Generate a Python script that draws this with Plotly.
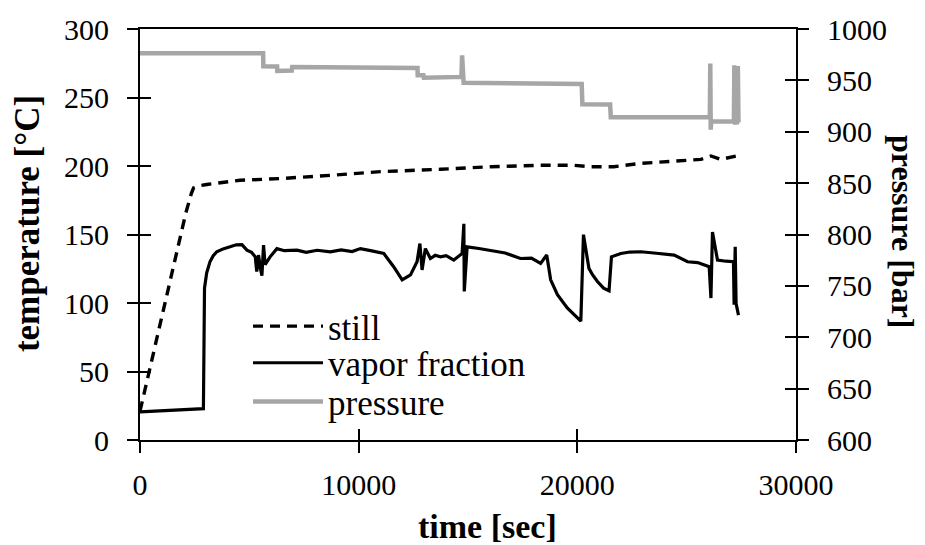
import plotly.graph_objects as go

# ---------------- data ----------------
still_t = [0, 1000, 2100, 2350, 2450, 2700, 3055, 4580, 6413, 8700, 11000, 13740,
           16030, 18320, 19840, 20610, 21670, 22900, 24420, 25650, 26110, 26570, 27260, 27400]
still_v = [21, 90, 166, 180, 184, 185.5, 186.5, 189.6, 190.8, 193.2, 195.9, 197.6,
           199.5, 200.5, 200.5, 199.5, 199.5, 201.9, 203.6, 204.8, 207.3, 204.8, 207.3, 208]

vapor_t = [0, 1500, 2900, 2950, 3050, 3200, 3350, 3510, 3800, 4120, 4400, 4660, 4890, 5100,
           5270, 5340, 5420, 5500, 5575, 5650, 5720, 5950, 6260, 6600, 7180, 7600, 8100, 8700,
           9200, 9700, 10080, 10600, 11150, 11600, 11990, 12370, 12670, 12800, 12900,
           13050, 13280, 13500, 13740, 14000, 14350, 14730, 14810, 14830, 14960, 15500, 16030,
           16700, 17400, 17900, 18320, 18600, 18780, 19090, 19540, 19800, 20160, 20280, 20530,
           20700, 20920, 21200, 21450, 21560, 21990, 22400, 22900, 23500, 24430, 25040, 25500,
           26030, 26110, 26180, 26410, 26800, 27140, 27170, 27220, 27260, 27370]
vapor_v = [20.5, 21.5, 22.9, 110.8, 122, 130.1, 134.5, 137.4, 139.5, 141.0, 142.5, 142.6, 138.6, 137,
           133.7, 122.9, 135, 126, 120.0, 142.2, 128, 133.7, 139.7, 138.2, 138.6, 137.0, 138.5, 137.4,
           138.8, 137.6, 139.7, 138.0, 136.1, 126.5, 116.9, 120.5, 130.1, 143.4, 124.1,
           139.7, 132.5, 134.8, 133.7, 134.6, 131.3, 136.1, 157.8, 108.4, 141.0, 139.8, 138.6,
           136.5, 132.5, 132.8, 128.9, 135.0, 116.9, 106.1, 96.4, 92.5, 86.8, 149.9, 125.3,
           120.5, 115.7, 110.8, 108.9, 133.7, 136.1, 137.2, 137.4, 136.5, 135.0, 130.1, 129.5,
           126.5, 103.6, 151.8, 131.3, 130.5, 130.1, 98.8, 141.0, 99.5, 91.1]

press_t = [0, 5630, 5640, 6270, 6280, 6940, 6960, 12690, 12700, 12960, 12980, 14700, 14730,
           14760, 14800, 20200, 20230, 21500, 21530, 26060, 26080, 26100, 26120, 27160, 27180,
           27220, 27260, 27300, 27340, 27370]
press_v = [976.5, 976.3, 963.7, 963.5, 959.2, 959.5, 963.0, 962.0, 955.0, 955.0, 952.5, 953.4, 974.3,
           953.0, 947.7, 946.5, 926.7, 926.5, 914.2, 914.0, 966.3, 902.0, 910.1, 910.0, 964.6,
           906.8, 964.0, 907.0, 964.0, 909.0]

legend_names = ["still", "vapor fraction", "pressure"]
x_ticks = [0, 10000, 20000, 30000]
t_ticks = [0, 50, 100, 150, 200, 250, 300]
p_ticks = [600, 650, 700, 750, 800, 850, 900, 950, 1000]

# ---------------- styling ----------------
FONT = "Liberation Serif, Times New Roman, serif"
GRAY = "#A6A6A6"
TICKFONT = dict(family=FONT, size=30, color="black")
TITLEFONT = dict(family=FONT, size=34, color="black")

fig = go.Figure()
fig.add_trace(go.Scatter(x=press_t, y=press_v, mode="lines", name=legend_names[2],
                         line=dict(color=GRAY, width=4.5), yaxis="y2", showlegend=False))
fig.add_trace(go.Scatter(x=still_t, y=still_v, mode="lines", name=legend_names[0],
                         line=dict(color="black", width=3.4, dash="10px,7px"), showlegend=False))
fig.add_trace(go.Scatter(x=vapor_t, y=vapor_v, mode="lines", name=legend_names[1],
                         line=dict(color="black", width=3.2), showlegend=False))

axis_common = dict(showline=True, linecolor="black", linewidth=2, showgrid=False,
                   zeroline=False, tickcolor="black", tickwidth=2, ticklen=11)

fig.update_layout(
    width=925, height=545,
    margin=dict(l=140, r=129, t=25, b=105),
    plot_bgcolor="white", paper_bgcolor="white",
    font=dict(family=FONT, size=30, color="black"),
    xaxis=dict(range=[0, 30000], tickvals=x_ticks, ticktext=[str(v) for v in x_ticks],
               ticks="outside", mirror=True, tickfont=TICKFONT, ticklabelstandoff=6,
               **axis_common),
    xaxis2=dict(range=[0, 30000], overlaying="x", tickvals=x_ticks, ticks="inside",
                showticklabels=False, anchor="y", side="bottom", **axis_common),
    yaxis=dict(range=[0, 300], tickvals=t_ticks, ticktext=[str(v) for v in t_ticks],
               ticks="outside", tickfont=TICKFONT, ticklabelstandoff=12, **axis_common),
    yaxis2=dict(range=[600, 1000], tickvals=p_ticks, ticktext=[str(v) for v in p_ticks],
                overlaying="y", side="right", anchor="x", ticks="outside",
                tickfont=TICKFONT, ticklabelstandoff=12, **axis_common),
    yaxis3=dict(range=[0, 300], tickvals=t_ticks, overlaying="y", side="left", anchor="x",
                ticks="inside", showticklabels=False, **axis_common),
    yaxis4=dict(range=[600, 1000], tickvals=p_ticks, overlaying="y", side="right", anchor="x",
                ticks="inside", showticklabels=False, **axis_common),
)
# invisible traces so that the overlay axes (inner tick halves) are drawn
fig.add_trace(go.Scatter(x=[None], y=[None], xaxis="x2", yaxis="y3", showlegend=False, hoverinfo="skip"))
fig.add_trace(go.Scatter(x=[None], y=[None], xaxis="x", yaxis="y4", showlegend=False, hoverinfo="skip"))

PW, PH = 656.0, 415.0
def px(xp):
    return (xp - 140) / PW
def py(yp):
    return (440 - yp) / PH

# axis titles
fig.add_annotation(text="<b>time [sec]</b>", x=px(487), y=py(527), xref="paper", yref="paper",
                   xanchor="center", yanchor="middle", showarrow=False, font=TITLEFONT)
fig.add_annotation(text="<b>temperature [°C]</b>", x=px(27), y=py(222), xref="paper", yref="paper",
                   xanchor="center", yanchor="middle", textangle=-90, showarrow=False,
                   font=dict(family=FONT, size=35, color="black"))
fig.add_annotation(text="<b>pressure [bar]</b>", x=px(903), y=py(229), xref="paper", yref="paper",
                   xanchor="center", yanchor="middle", textangle=90, showarrow=False,
                   font=dict(family=FONT, size=32, color="black"))

# custom legend
leg_rows = [(325, dict(color="black", width=3.4, dash="10px,7px")),
            (362, dict(color="black", width=3.2)),
            (401, dict(color=GRAY, width=4.5))]
for name, (yy, ln) in zip(legend_names, leg_rows):
    fig.add_shape(type="line", xref="paper", yref="paper", x0=px(253), x1=px(323),
                  y0=py(yy), y1=py(yy), line=ln)
    fig.add_annotation(text=name, x=px(326), y=py(yy + 2), xref="paper", yref="paper",
                       xanchor="left", yanchor="middle", showarrow=False,
                       font=dict(family=FONT, size=35, color="black"))

fig.write_html("out.html")
